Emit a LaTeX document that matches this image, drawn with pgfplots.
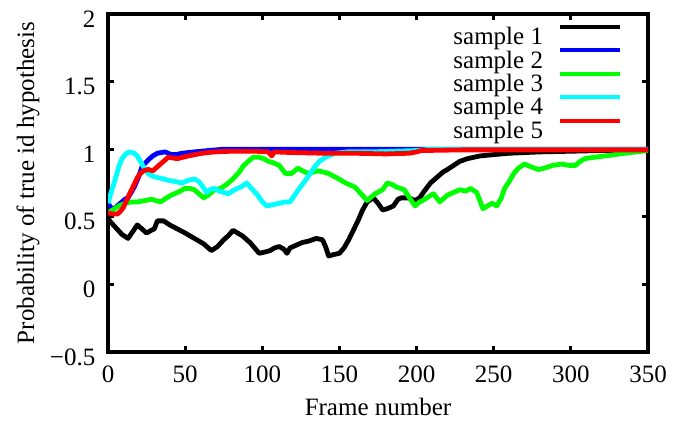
\documentclass[border=0pt]{standalone}
\usepackage{fontspec}
\setmainfont{Liberation Serif}
\usepackage{pgfplots}
\pgfplotsset{compat=1.18}
\definecolor{sblue}{RGB}{0,0,255}
\definecolor{sgreen}{RGB}{0,255,0}
\definecolor{scyan}{RGB}{0,255,255}
\definecolor{sred}{RGB}{255,0,0}

\begin{document}
\begin{tikzpicture}
\useasboundingbox (-54pt,-34.5pt) rectangle (282.5pt,176pt);
\begin{axis}[
  scale only axis,width=270pt,height=169pt,
  xmin=0,xmax=350,ymin=-0.5,ymax=2,
  xtick={0,50,...,350},ytick={-0.5,0,0.5,1,1.5,2},
  yticklabels={−0.5,0,0.5,1,1.5,2},
  tick align=inside,major tick length=3pt,
  axis line style={line width=1.6pt},
  every tick/.style={black,line width=1.5pt},
  tick label style={font=\fontsize{12.5}{13}\selectfont},
  xticklabel style={yshift=-3.6pt},
  yticklabel style={xshift=-2.8pt,yshift=-2.5pt},
  /pgf/number format/assume math mode=true,
  xlabel={Frame number},ylabel={Probability of true id hypothesis},
  label style={font=\fontsize{12.5}{13}\selectfont},
  xlabel style={at={(axis description cs:0.5,0)},anchor=center,yshift=-27.5pt},
  ylabel style={at={(axis description cs:-0.148,0.5)},anchor=center},
  legend plot pos=right,
  legend cell align=right,
  legend style={draw=none,fill=none,at={(rel axis cs:1,1)},anchor=north east,
    xshift=-13pt,yshift=-5.5pt,font=\fontsize{12.5}{13}\selectfont,
    row sep=0pt,column sep=7.5pt,inner sep=0pt,outer sep=0pt,
    nodes={inner sep=0pt,text height=9pt,text depth=1.8pt}},
  legend image code/.code={\draw[#1,line width=2pt] (0pt,5.3pt) -- (30pt,5.3pt);},
  every axis plot/.append style={line width=2.4pt,line join=round},
]
\addplot[black] coordinates {(0,0.50) (1,0.47) (5,0.42) (9,0.37) (13,0.34) (16,0.39) (19,0.44) (22,0.41) (25,0.38) (28,0.40) (30,0.41) (32,0.47) (36,0.47) (40,0.44) (45,0.41) (50,0.38) (56,0.34) (62,0.30) (67,0.25) (71,0.28) (75,0.33) (78,0.36) (81,0.40) (84,0.38) (87,0.36) (92,0.31) (95,0.27) (98,0.23) (102,0.24) (105,0.25) (108,0.27) (111,0.28) (114,0.26) (116,0.23) (118,0.27) (122,0.29) (126,0.31) (130,0.32) (135,0.34) (139,0.33) (141,0.28) (143,0.21) (146,0.22) (150,0.23) (153,0.27) (156,0.33) (159,0.40) (162,0.47) (165,0.55) (168,0.61) (172,0.64) (175,0.60) (178,0.55) (181,0.56) (185,0.58) (188,0.63) (190,0.64) (195,0.64) (199,0.62) (202,0.64) (205,0.69) (209,0.75) (213,0.79) (217,0.83) (220,0.85) (224,0.88) (228,0.91) (233,0.93) (237,0.94) (241,0.95) (250,0.96) (260,0.97) (280,0.98) (300,0.985) (320,0.99) (350,0.995)};
\addlegendentry{sample 1}
\addplot[sblue] coordinates {(0,0.60) (3,0.55) (5,0.57) (8,0.60) (11,0.63) (13,0.64) (15,0.68) (17,0.72) (20,0.80) (22,0.87) (26,0.92) (29,0.95) (32,0.97) (37,0.98) (41,0.96) (44,0.96) (48,0.97) (56,0.98) (65,0.99) (75,1.0) (350,1.0)};
\addlegendentry{sample 2}
\addplot[sgreen] coordinates {(0,0.53) (3,0.55) (7,0.58) (11,0.60) (15,0.61) (19,0.61) (24,0.62) (28,0.63) (31,0.62) (34,0.61) (38,0.64) (41,0.66) (45,0.68) (50,0.71) (53,0.71) (56,0.70) (59,0.67) (62,0.64) (65,0.66) (69,0.70) (73,0.71) (77,0.74) (81,0.78) (85,0.83) (88,0.88) (91,0.91) (94,0.94) (98,0.94) (101,0.93) (104,0.91) (107,0.90) (111,0.88) (113,0.85) (115,0.82) (119,0.82) (123,0.86) (126,0.84) (130,0.82) (136,0.84) (140,0.83) (143,0.82) (148,0.79) (154,0.75) (160,0.72) (164,0.67) (168,0.62) (171,0.65) (173,0.67) (178,0.70) (181,0.75) (184,0.74) (187,0.72) (192,0.70) (196,0.63) (199,0.58) (202,0.61) (204,0.62) (208,0.65) (211,0.67) (213,0.64) (215,0.61) (218,0.64) (220,0.66) (224,0.68) (228,0.70) (232,0.69) (235,0.71) (239,0.68) (241,0.62) (243,0.56) (246,0.58) (249,0.60) (252,0.58) (255,0.64) (257,0.71) (260,0.76) (263,0.82) (266,0.86) (270,0.89) (274,0.87) (279,0.85) (283,0.86) (288,0.88) (294,0.89) (299,0.88) (303,0.88) (306,0.91) (309,0.93) (315,0.94) (322,0.95) (335,0.97) (350,0.99)};
\addlegendentry{sample 3}
\addplot[scyan] coordinates {(0,0.60) (2,0.68) (5,0.79) (7,0.87) (9,0.93) (12,0.97) (14,0.98) (17,0.97) (19,0.95) (22,0.89) (24,0.85) (26,0.82) (29,0.80) (32,0.79) (36,0.78) (39,0.77) (44,0.76) (48,0.75) (52,0.77) (56,0.78) (59,0.76) (61,0.73) (64,0.68) (66,0.70) (69,0.71) (72,0.69) (75,0.68) (78,0.67) (82,0.70) (86,0.72) (90,0.75) (93,0.71) (97,0.66) (100,0.61) (103,0.58) (107,0.59) (111,0.60) (115,0.61) (118,0.61) (121,0.66) (124,0.71) (128,0.77) (131,0.82) (134,0.87) (137,0.91) (141,0.94) (147,0.97) (155,0.98) (170,0.98) (185,0.985) (200,0.99) (210,1.0) (350,1.0)};
\addlegendentry{sample 4}
\addplot[sred] coordinates {(0,0.53) (3,0.52) (6,0.52) (8,0.54) (10,0.57) (12,0.62) (14,0.67) (17,0.74) (19,0.79) (21,0.82) (23,0.84) (26,0.85) (29,0.84) (32,0.87) (36,0.91) (39,0.94) (45,0.93) (52,0.95) (61,0.97) (69,0.98) (80,0.985) (95,0.985) (104,0.98) (106,0.95) (108,0.98) (120,0.975) (140,0.97) (160,0.97) (180,0.965) (195,0.97) (200,0.98) (203,0.99) (230,0.995) (350,0.995)};
\addlegendentry{sample 5}
\end{axis}
\end{tikzpicture}
\end{document}
